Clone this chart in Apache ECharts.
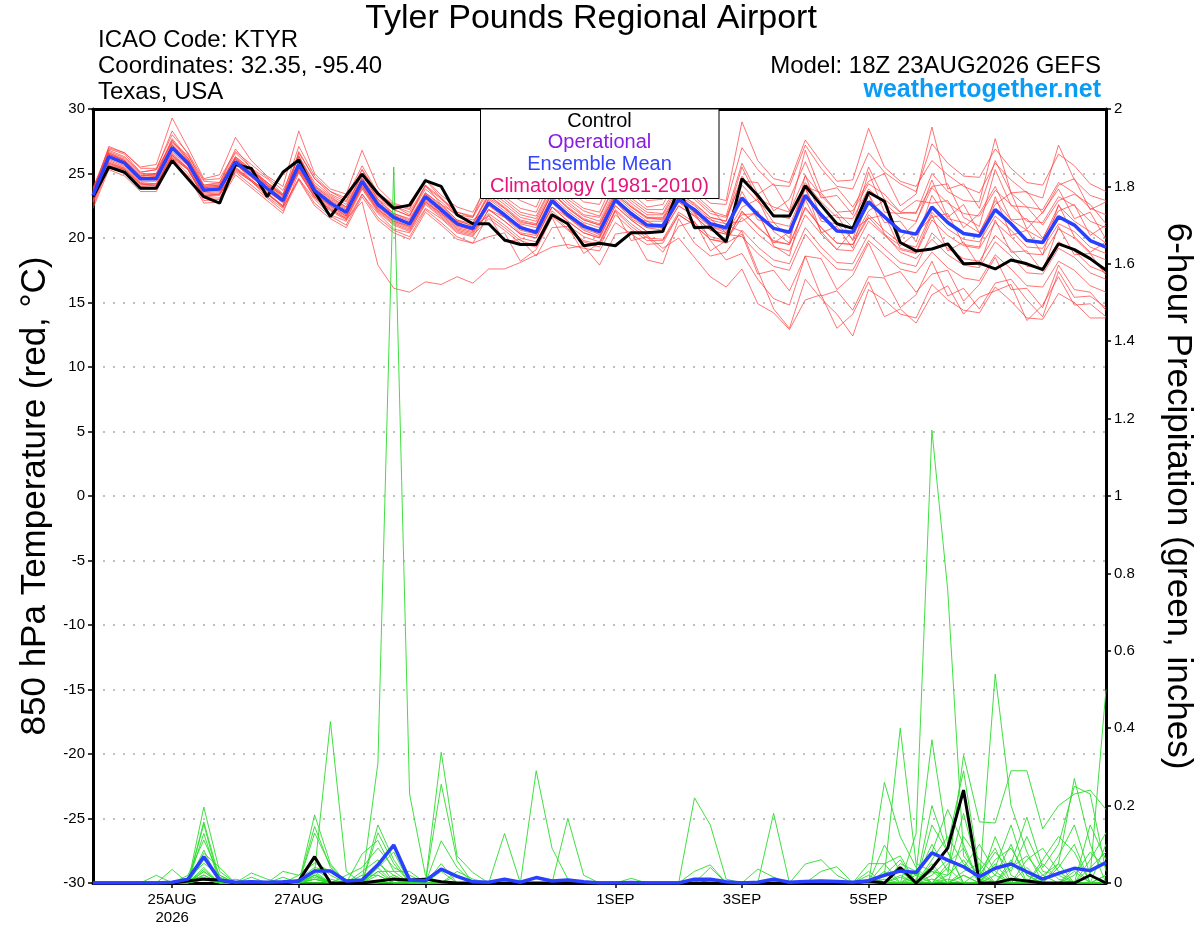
<!DOCTYPE html>
<html>
<head>
<meta charset="utf-8">
<script src="https://cdn.jsdelivr.net/npm/echarts@6/dist/echarts.min.js"></script>
<style>
html, body { margin: 0; padding: 0; background: #fff; }
#chart { width: 1200px; height: 927px; }
</style>
</head>
<body>
<div id="chart"></div>
<script>
// x = 6-hour step, 0 = 18Z 23AUG2026 ... 64 = 18Z 08SEP2026
var tickSteps = [5, 13, 21, 33, 41, 49, 57];
var tickLabels = ['25AUG\n2026', '27AUG', '29AUG', '1SEP', '3SEP', '5SEP', '7SEP'];

// 850 hPa temperature (C)
var tempControl = [23.2, 25.5,25.1,23.85,23.85, 26.0,24.6,23.2,22.7, 25.7,25.4,23.2,25.1, 26.05,23.6,21.65,23.3, 24.95,23.45,22.3,22.55, 24.45,24.0,21.8,21.1, 21.1,19.85,19.5,19.5, 21.8,21.1,19.4,19.6, 19.4,20.4,20.4,20.5, 23.9,20.8,20.85,19.7, 24.6,23.3,21.7,21.7, 24.05,22.55,21.1,20.75, 23.55,22.85,19.65,19.0, 19.15,19.55,18.0,18.05, 17.6,18.3,18.0,17.55, 19.55,19.1,18.4,17.5];
var tempMean = [23.3, 26.3,25.8,24.6,24.6, 27.0,25.8,23.7,23.8, 25.9,24.9,23.85,22.9, 25.7,23.7,22.7,22.0, 24.4,22.6,21.6,21.1, 23.2,22.2,21.1,20.75, 22.7,21.8,20.8,20.45, 22.9,21.8,20.9,20.5, 22.95,21.9,21.0,20.95, 23.0,22.2,21.1,20.8, 23.1,21.8,20.75,20.45, 23.3,21.8,20.55,20.45, 22.8,21.65,20.55,20.3, 22.4,21.2,20.35,20.15, 22.2,21.1,19.8,19.65, 21.65,21.0,19.8,19.3];
var tempMembers = [
  [23.8, 26.8,26.3,25.1,25.3, 28.3,26.5,24.1,24.3, 26.9,25.4,24.3,23.4, 27.1,24.8,23.6,23.1, 25.6,23.5,22.6,22.2, 24.6,23.3,22.4,22.0, 24.3,23.2,22.3,22.0, 24.6,23.2,22.3,22.0, 24.7,23.5,22.4,22.6, 24.8,23.7,22.7,22.6, 27.0,25.3,24.1,24.0, 27.2,25.4,24.0,23.8, 26.6,25.1,24.2,23.6, 27.3,25.8,24.8,24.7, 26.9,25.4,24.3,24.1, 26.5,25.6,24.2,23.6],
  [23.5, 26.6,26.0,24.8,25.0, 27.7,26.2,24.0,24.1, 26.3,25.3,24.1,23.3, 26.4,24.1,23.2,22.4, 25.0,23.0,22.2,21.7, 24.1,22.6,21.8,21.6, 24.8,23.7,22.9,22.4, 25.1,23.8,22.8,22.6, 25.2,23.9,22.9,23.0, 25.1,24.1,23.2,22.9, 29.0,26.0,24.6,24.3, 27.6,25.9,24.4,24.5, 28.5,25.5,24.4,24.0, 26.0,24.9,24.0,23.5, 25.8,24.5,23.5,23.1, 27.2,24.5,23.3,22.9],
  [23.0, 26.0,25.5,24.3,24.2, 26.5,25.4,23.4,23.5, 25.8,24.5,23.6,22.8, 26.7,24.6,23.4,22.8, 25.3,23.3,22.5,21.8, 24.0,23.0,22.0,21.6, 23.7,22.8,21.8,21.5, 24.0,22.8,21.8,21.6, 24.1,22.9,22.0,21.9, 24.1,23.2,22.1,21.7, 25.8,23.4,24.2,22.1, 26.8,23.6,23.9,22.4, 24.4,25.0,22.5,23.4, 28.6,23.8,24.2,22.3, 26.0,23.5,23.6,21.9, 24.1,24.6,22.2,22.8],
  [23.6, 27.0,26.6,25.5,25.7, 29.3,27.0,24.6,24.9, 27.8,26.0,24.8,24.0, 28.3,25.0,23.8,23.4, 26.8,23.9,22.7,22.3, 24.5,23.1,21.7,21.2, 23.3,22.3,21.2,21.0, 23.5,22.3,21.4,21.0, 23.4,22.4,21.6,21.4, 23.6,22.6,21.6,21.3, 24.8,23.1,22.4,22.0, 24.8,23.3,22.0,22.1, 24.2,23.4,22.0,21.9, 25.0,23.6,22.9,22.8, 27.7,23.5,22.4,22.2, 24.3,23.5,22.3,21.8],
  [22.8, 25.8,25.3,24.2,24.0, 26.3,25.3,23.2,23.4, 25.3,24.4,23.4,22.5, 25.3,23.4,22.5,21.7, 24.0,22.2,21.3,20.9, 22.8,21.9,21.0,20.6, 23.1,22.3,21.3,21.0, 23.5,22.3,21.4,21.0, 23.4,22.4,21.5,21.5, 23.4,22.7,21.6,21.3, 25.5,23.0,21.2,20.9, 24.0,23.5,22.0,20.8, 25.1,22.0,21.9,22.0, 24.0,24.2,21.6,20.9, 25.3,22.5,22.4,21.0, 22.9,23.4,22.6,21.1],
  [23.4, 26.5,26.0,24.8,24.9, 27.6,26.0,23.9,24.0, 26.2,25.0,24.1,23.0, 25.1,23.2,22.2,21.5, 23.9,22.1,21.1,20.6, 22.7,21.7,20.6,20.3, 22.2,21.3,20.3,20.0, 22.4,21.3,20.4,20.0, 22.5,21.4,20.5,20.5, 22.5,21.7,20.6,20.3, 22.4,23.0,20.5,19.6, 24.9,21.5,21.8,19.8, 22.1,22.9,20.0,21.2, 24.5,21.6,22.6,20.4, 22.6,23.5,20.7,22.0, 23.8,21.5,22.0,19.9],
  [23.1, 26.1,25.6,24.4,24.4, 26.7,25.6,23.5,23.6, 25.7,24.7,23.7,22.7, 26.0,24.0,23.0,22.3, 24.7,22.9,21.9,21.4, 23.5,22.5,21.4,21.1, 23.5,22.6,21.6,21.3, 23.7,22.6,21.7,21.3, 23.8,22.7,21.8,21.8, 23.8,23.0,21.9,21.6, 24.4,24.3,22.1,23.0, 25.9,23.1,23.3,21.8, 25.5,23.0,22.0,22.9, 22.7,22.9,20.8,21.9, 24.0,21.4,21.5,20.0, 22.1,22.6,20.2,21.0],
  [23.9, 26.9,26.5,25.1,25.3, 27.4,26.4,24.4,24.3, 26.6,25.4,24.6,23.4, 25.9,23.6,22.9,21.8, 24.6,22.4,21.8,21.0, 23.4,22.0,21.3,20.6, 22.9,21.6,21.0,20.3, 23.2,21.6,21.1,20.2, 23.3,21.6,21.3,20.7, 23.4,21.9,21.5,20.4, 23.6,21.4,21.2,20.0, 23.9,21.3,21.1,19.9, 23.4,21.2,21.3,19.7, 23.3,21.5,21.2,20.4, 22.9,21.4,20.6,19.9, 22.5,21.3,20.5,19.6],
  [22.7, 25.6,25.3,24.0,23.9, 26.2,25.3,23.1,23.1, 25.2,24.4,23.2,22.3, 24.6,23.0,21.8,21.3, 23.4,21.9,20.7,20.4, 22.3,21.5,20.4,20.1, 22.2,21.6,20.4,20.2, 22.4,21.6,20.6,20.1, 22.8,21.5,20.8,20.6, 22.8,21.8,20.9,20.4, 21.8,21.9,19.6,20.5, 23.9,20.4,20.9,19.2, 23.4,20.3,19.4,20.4, 21.6,21.9,19.5,19.3, 23.2,20.2,20.6,18.7, 22.6,20.1,18.9,19.7],
  [23.3, 26.4,25.9,24.6,24.8, 27.2,25.9,23.8,23.9, 26.1,25.2,24.3,23.3, 26.3,24.0,23.1,22.4, 24.9,23.0,21.9,21.5, 23.5,22.6,21.4,20.9, 21.7,20.8,19.8,19.4, 21.9,20.7,19.8,19.5, 22.1,20.9,20.0,19.9, 22.0,21.2,20.1,19.8, 22.0,20.9,19.7,19.5, 22.4,20.8,19.6,19.5, 21.8,20.6,19.6,19.3, 22.0,20.7,19.9,19.7, 21.7,20.6,19.3,19.2, 21.1,20.5,19.3,18.8],
  [22.9, 25.8,25.4,24.2,24.1, 26.4,25.4,23.3,23.4, 25.4,24.5,23.5,22.4, 24.6,22.7,21.7,21.0, 23.4,21.6,20.6,20.1, 22.2,21.2,20.1,19.6, 21.8,19.7,19.9,18.6, 20.8,20.9,18.8,19.6, 22.1,19.8,20.1,18.9, 20.9,21.3,19.0,19.8, 21.6,20.3,19.3,19.0, 21.8,20.3,19.1,19.0, 21.3,20.2,19.1,18.8, 21.4,20.2,19.4,19.2, 21.2,20.1,18.8,18.7, 20.7,20.0,18.8,18.3],
  [23.7, 26.7,26.2,25.0,25.0, 27.5,26.2,24.1,24.2, 26.3,25.3,24.3,23.3, 25.5,23.5,22.5,21.8, 24.2,22.4,21.4,20.9, 23.0,22.0,20.9,20.6, 23.0,22.1,21.1,20.8, 23.2,22.1,21.2,20.8, 23.3,22.2,21.3,21.3, 23.3,22.5,21.4,21.1, 21.3,22.1,19.4,18.6, 23.0,20.5,19.1,20.6, 21.5,21.8,19.2,18.9, 21.8,19.0,19.7,17.8, 21.4,18.9,19.0,17.4, 20.9,18.7,18.8,17.1],
  [22.5, 25.5,25.0,23.8,23.8, 26.2,25.0,22.9,23.0, 25.1,24.1,23.1,22.1, 24.5,22.5,21.5,20.8, 23.2,21.4,20.4,19.9, 22.0,21.0,19.9,19.6, 20.1,20.4,18.2,19.1, 21.6,19.2,19.4,17.9, 20.3,20.5,18.3,18.0, 21.5,19.6,18.6,18.9, 20.6,19.3,18.3,18.0, 20.8,19.3,18.1,18.0, 20.3,19.2,18.1,17.8, 20.4,19.2,18.4,18.2, 20.2,19.1,17.8,17.7, 19.7,19.0,17.8,17.3],
  [23.2, 26.2,25.9,24.5,24.7, 27.1,25.7,23.6,23.9, 25.8,24.8,23.8,22.9, 25.2,23.2,22.2,21.5, 22.8,17.9,16.1,15.8, 16.6,16.4,17.0,16.5, 17.6,17.6,18.1,18.7, 19.3,19.5,19.2,19.0, 21.2,20.3,19.5,19.6, 21.8,21.0,19.9,19.7, 22.1,20.8,19.8,19.5, 22.3,20.8,19.6,19.5, 21.6,20.3,18.9,18.4, 19.9,18.7,17.9,17.7, 19.7,18.6,17.3,17.2, 19.2,18.5,17.3,16.8],
  [23.6, 27.1,26.6,25.4,25.4, 28.0,26.6,24.5,24.6, 26.7,25.7,24.7,23.7, 26.3,24.3,23.3,22.6, 25.0,23.2,22.2,21.7, 23.8,22.8,21.7,21.4, 22.2,21.3,20.3,20.0, 22.4,21.3,20.4,20.0, 22.5,21.4,20.5,20.5, 22.5,21.7,20.6,20.3, 20.1,18.8,17.8,17.5, 20.3,18.8,17.6,17.5, 19.8,18.7,17.6,17.3, 18.9,17.7,16.9,16.7, 18.7,17.6,16.3,16.2, 18.2,17.5,16.3,15.8],
  [22.3, 25.3,24.8,23.6,23.6, 26.0,24.8,22.7,22.8, 24.9,23.9,22.9,21.9, 25.1,23.1,22.1,21.4, 23.8,22.0,21.0,20.5, 22.6,21.6,20.5,20.2, 21.5,20.6,19.6,19.3, 21.7,20.6,19.7,19.3, 21.8,20.7,19.8,19.8, 21.8,21.0,19.9,19.6, 20.3,17.2,17.5,15.9, 18.6,18.4,16.0,17.1, 19.6,17.0,17.4,15.8, 17.2,17.5,15.1,16.4, 18.5,16.0,16.1,14.6, 17.9,16.0,15.8,14.4],
  [23.6, 26.6,26.1,24.9,24.9, 27.3,26.1,24.0,24.1, 26.2,25.2,24.2,23.2, 25.9,23.9,22.9,22.2, 24.6,22.8,21.8,21.3, 23.4,22.4,21.3,21.0, 23.3,22.4,21.4,21.1, 23.5,22.4,21.5,21.1, 23.6,22.5,21.6,21.6, 23.6,22.0,19.8,18.3, 18.8,16.8,15.3,14.8, 18.6,15.5,15.9,14.4, 17.0,16.9,14.6,15.6, 18.2,15.5,16.1,14.5, 16.5,16.8,15.2,13.9, 17.4,15.4,15.5,14.6],
  [22.9, 25.9,25.4,24.2,24.2, 26.6,25.4,23.3,23.4, 25.5,24.5,23.5,22.5, 26.6,24.6,23.6,22.9, 25.3,23.5,22.5,22.0, 24.1,23.1,22.0,21.7, 23.9,23.0,22.0,21.7, 24.1,23.0,22.1,21.7, 24.2,23.1,22.2,22.2, 24.2,23.4,22.3,21.0, 20.5,17.5,14.5,13.0, 16.8,15.3,14.1,12.4, 16.0,15.2,14.1,13.8, 16.4,15.2,14.4,14.2, 16.2,15.1,13.8,13.7, 15.7,15.0,13.8,13.8],
  [23.5, 26.5,26.0,24.8,24.8, 27.2,26.0,23.9,24.0, 26.1,25.1,24.1,23.1, 25.4,23.4,22.4,21.7, 24.1,22.3,21.3,20.8, 22.9,21.9,20.8,20.5, 21.9,21.0,20.0,19.7, 22.1,21.0,20.1,19.7, 22.2,21.1,20.2,19.2, 20.0,18.5,17.0,16.2, 17.6,14.9,14.2,12.9, 15.2,15.6,13.0,14.1, 16.6,13.9,14.5,13.4, 15.6,16.3,14.1,15.4, 15.9,16.4,13.6,14.8, 17.0,14.8,14.9,13.9],
  [22.8, 25.7,25.3,24.1,24.1, 26.4,25.3,23.2,23.3, 25.4,24.4,23.4,22.4, 25.3,23.3,22.3,21.6, 24.0,22.2,21.2,20.7, 22.8,21.8,20.7,20.4, 22.5,21.6,20.6,20.3, 22.7,21.6,20.7,20.3, 22.8,21.7,20.8,20.8, 22.8,22.0,20.9,20.6, 24.1,22.8,21.8,21.5, 24.3,22.8,21.6,21.5, 23.8,22.7,21.6,21.3, 23.9,22.7,21.9,21.7, 23.7,22.6,21.3,21.2, 23.2,22.5,21.3,20.8]
];

// 6-hour precipitation (inches)
var precipControl = [0, 0,0,0,0, 0,0.005,0.01,0.008, 0,0,0,0, 0.005,0.068,0,0, 0,0.005,0.01,0.008, 0.01,0.003,0,0, 0,0,0,0, 0,0,0,0, 0,0,0,0, 0,0,0,0, 0,0,0,0, 0,0,0,0, 0.005,0,0.04,0, 0.038,0.09,0.24,0, 0,0.01,0.005,0, 0,0,0.02,0];
var precipMean = [0, 0,0,0,0, 0.002,0.01,0.068,0.008, 0.002,0.003,0.002,0.003, 0.005,0.031,0.031,0.005, 0.008,0.047,0.098,0.008, 0.006,0.036,0.017,0.003, 0.002,0.01,0.002,0.014, 0.005,0.008,0.003,0, 0,0.001,0,0, 0,0.01,0.01,0.003, 0,0.002,0.01,0.002, 0.004,0.005,0.004,0.002, 0.006,0.02,0.031,0.027, 0.078,0.059,0.042,0.016, 0.038,0.049,0.029,0.01, 0.025,0.038,0.032,0.053];
var precipMembers = [
  [0, 0,0,0,0, 0,0,0.196,0.03, 0,0,0,0, 0,0,0,0, 0,0.31,1.85,0.23, 0.02,0,0,0, 0,0,0,0, 0,0,0,0, 0,0,0,0, 0,0,0,0, 0,0,0,0, 0,0,0,0, 0,0.05,0.07,0, 0.2,0.08,0,0, 0.05,0,0,0, 0,0.03,0,0],
  [0, 0,0,0,0, 0.035,0,0.158,0.01, 0,0,0,0, 0,0.176,0.05,0, 0,0,0,0, 0,0.338,0.07,0.027, 0,0,0,0, 0,0,0,0, 0,0,0,0, 0,0,0,0, 0,0,0,0, 0,0,0,0, 0.02,0,0,0.128, 1.17,0.757,0.07,0.02, 0,0,0.04,0, 0,0,0,0.1],
  [0, 0,0,0,0, 0,0,0.152,0, 0,0,0,0, 0,0.03,0.417,0.03, 0,0,0,0, 0,0.255,0.058,0, 0,0,0,0.29, 0.09,0.01,0,0, 0,0,0,0, 0,0,0,0, 0,0,0,0, 0,0,0,0, 0,0.26,0.12,0.04, 0,0,0,0, 0.54,0.2,0.08,0, 0,0,0.02,0.5],
  [0, 0,0,0,0, 0,0,0.128,0, 0,0,0,0, 0,0.146,0.04,0, 0,0.15,0.06,0, 0,0,0,0, 0,0,0,0, 0,0.167,0.02,0, 0,0,0,0, 0,0.22,0.15,0.01, 0,0,0,0, 0,0,0,0, 0,0.02,0.40,0.05, 0.03,0.02,0.33,0.158, 0.155,0.29,0.29,0.14, 0.2,0.23,0.24,0.19],
  [0, 0,0,0,0, 0,0.02,0.111,0.02, 0,0,0,0, 0,0.129,0.045,0, 0,0.13,0.05,0, 0,0.109,0.04,0, 0,0.128,0,0, 0,0,0,0, 0,0,0,0, 0,0,0,0, 0,0,0.18,0, 0,0,0,0, 0,0,0,0.03, 0.37,0.1,0.29,0.03, 0,0,0,0.02, 0.05,0.27,0.1,0],
  [0, 0,0,0,0.02, 0,0,0.085,0, 0,0,0,0.03, 0.02,0.052,0.03,0, 0.075,0.11,0.03,0, 0,0,0,0, 0,0,0,0, 0,0,0,0, 0,0,0,0, 0,0.03,0.047,0, 0,0,0,0, 0.049,0.06,0.02,0, 0,0.098,0.03,0, 0.15,0.08,0,0, 0,0.05,0.17,0.04, 0.1,0.25,0.23,0.03],
  [0, 0,0,0,0, 0,0,0.077,0.04, 0,0.026,0.01,0, 0,0,0,0.02, 0.04,0.09,0.04,0.02, 0,0,0,0, 0,0,0,0, 0,0,0,0, 0,0,0,0, 0,0,0.04,0, 0,0,0,0, 0,0.03,0.042,0, 0.05,0.05,0,0, 0.06,0.12,0.05,0.01, 0,0,0,0.06, 0.12,0.08,0,0],
  [0, 0,0,0,0, 0,0.01,0.051,0.02, 0,0,0,0, 0.01,0.04,0.03,0, 0,0.05,0.02,0, 0,0,0.02,0, 0,0,0,0, 0,0,0,0, 0,0,0,0, 0,0,0,0, 0,0.036,0.015,0, 0,0,0,0, 0,0,0.04,0.02, 0.08,0.19,0.1,0, 0.06,0.09,0.02,0, 0,0,0.06,0.13],
  [0, 0,0,0,0, 0,0,0.029,0, 0.01,0,0,0, 0,0.03,0,0, 0.03,0.06,0,0.01, 0,0,0,0, 0,0,0,0, 0,0,0,0, 0,0,0,0, 0,0,0,0, 0,0,0,0, 0,0,0,0, 0,0.02,0.06,0, 0.04,0,0.12,0.06, 0.02,0.1,0,0.01, 0.07,0.15,0.02,0],
  [0, 0,0,0,0, 0,0,0.021,0, 0,0,0,0, 0,0.02,0,0, 0,0,0.02,0, 0,0.05,0,0, 0,0,0,0, 0,0,0,0, 0,0.012,0,0, 0,0,0,0, 0,0,0,0, 0,0,0,0, 0,0.03,0,0.01, 0.1,0.03,0.18,0.02, 0.08,0.03,0.12,0.03, 0.02,0,0.15,0.06],
  [0, 0,0,0,0, 0,0.01,0.015,0, 0,0,0,0, 0.02,0.06,0.02,0, 0,0.04,0.08,0, 0.01,0,0,0, 0,0,0,0, 0,0,0,0, 0,0,0,0, 0,0,0,0, 0,0,0,0, 0,0,0,0, 0.03,0,0.05,0.03, 0,0.05,0.09,0, 0.12,0.02,0,0, 0.04,0.1,0,0.02],
  [0, 0,0,0,0, 0,0,0.01,0, 0,0,0,0, 0,0.025,0,0, 0,0.03,0.03,0.03, 0,0.03,0,0, 0,0,0,0, 0,0,0,0, 0,0,0,0, 0,0.01,0,0, 0,0,0,0, 0,0,0,0, 0,0,0,0, 0.02,0.06,0.04,0.1, 0.03,0,0.06,0.09, 0.03,0,0,0],
  [0, 0,0,0,0, 0,0,0.04,0, 0,0,0,0, 0,0.015,0,0, 0.02,0.02,0,0, 0,0,0,0, 0,0,0,0, 0,0,0,0, 0,0,0,0, 0,0,0,0, 0,0,0,0, 0,0,0,0, 0,0.01,0,0, 0.05,0,0.02,0, 0.04,0.15,0.02,0, 0,0.02,0.08,0.04],
  [0, 0,0,0,0, 0,0,0.06,0.015, 0,0,0,0, 0,0.01,0,0, 0,0,0.015,0, 0,0,0.03,0.01, 0,0,0,0, 0,0,0,0, 0,0,0,0, 0,0,0,0, 0,0,0,0, 0,0,0,0, 0,0,0,0.02, 0,0.02,0.06,0, 0,0.04,0.07,0.02, 0,0,0,0],
  [0, 0,0,0,0, 0,0,0.035,0, 0,0.015,0,0, 0,0.02,0,0, 0,0.03,0,0, 0,0,0,0, 0,0,0,0, 0,0,0,0, 0,0,0,0, 0,0,0,0, 0,0,0,0, 0,0,0,0, 0,0,0.02,0, 0,0.04,0,0.03, 0.09,0,0,0, 0.05,0,0.04,0.08],
  [0, 0,0,0,0, 0,0,0.02,0, 0,0,0,0.015, 0,0.035,0.01,0, 0,0,0,0, 0,0,0,0, 0,0,0,0, 0,0,0,0, 0,0,0,0, 0,0,0,0, 0,0,0,0, 0,0,0,0, 0,0,0,0, 0,0,0.03,0.05, 0,0,0,0.05, 0.01,0,0,0],
  [0, 0,0,0,0, 0,0,0.01,0, 0,0,0,0, 0,0,0,0, 0,0.02,0,0.01, 0,0,0,0, 0,0,0,0, 0,0,0,0, 0,0,0,0, 0,0,0,0, 0,0,0,0, 0,0,0,0, 0,0,0,0, 0.03,0,0,0, 0,0.06,0,0, 0,0.04,0,0],
  [0, 0,0,0,0, 0,0,0.008,0, 0,0,0,0, 0,0.01,0,0, 0,0,0.01,0, 0,0,0,0, 0,0,0,0, 0,0,0,0, 0,0,0,0, 0,0,0,0, 0,0,0,0, 0,0,0,0, 0,0,0,0, 0,0.01,0,0, 0.02,0,0,0, 0,0,0,0],
  [0, 0,0,0,0, 0,0,0.03,0, 0,0,0,0, 0,0.02,0,0, 0,0.04,0,0, 0,0,0,0, 0,0,0,0, 0,0,0,0, 0,0,0,0, 0,0,0,0, 0,0,0,0, 0,0,0,0, 0,0,0.015,0, 0,0,0.02,0, 0,0,0,0, 0,0,0,0.02],
  [0, 0,0,0,0, 0,0,0.012,0, 0,0,0,0, 0,0.01,0,0, 0,0,0,0, 0,0,0,0, 0,0,0,0, 0,0,0,0, 0,0,0,0, 0,0,0,0, 0,0,0,0, 0,0,0,0, 0,0,0,0, 0.01,0,0,0, 0,0,0.01,0, 0,0,0,0]
];

var FONT = '"Liberation Sans", Arial, Helvetica, sans-serif';

function pairs(arr) {
    return arr.map(function (v, i) { return [i, v]; });
}

function lineSeries(arr, axis, color, width, opacity, z) {
    return {
        type: 'line',
        yAxisIndex: axis,
        data: pairs(arr),
        showSymbol: false,
        symbol: 'none',
        silent: true,
        z: z,
        lineStyle: { color: color, width: width, opacity: opacity }
    };
}

var series = [];
tempMembers.forEach(function (m) {
    series.push(lineSeries(m, 0, '#ff3b3b', 1, 0.7, 2));
});
precipMembers.forEach(function (m) {
    series.push(lineSeries(m, 1, '#2bdc2b', 1, 0.9, 3));
});
series.push(lineSeries(tempControl, 0, '#000000', 3, 1, 5));
series.push(lineSeries(tempMean, 0, '#2a40ff', 3.5, 1, 6));
series.push(lineSeries(precipControl, 1, '#000000', 3, 1, 5));
series.push(lineSeries(precipMean, 1, '#2a40ff', 3.5, 1, 6));

function txt(text, x, y, size, color, align, weight) {
    return {
        type: 'text', x: x, y: y, z: 100,
        style: {
            text: text, fill: color,
            font: (weight || 'normal') + ' ' + size + 'px ' + FONT,
            textAlign: align, textVerticalAlign: 'middle'
        }
    };
}

var myChart = echarts.init(document.getElementById('chart'));
var option = {
    animation: false,
    backgroundColor: '#fff',
    textStyle: { fontFamily: FONT },
    grid: { left: 93, right: 94, top: 109, bottom: 44, containLabel: false, outerBoundsMode: 'none' },
    xAxis: [
        {
            type: 'value', min: 0, max: 64, position: 'bottom',
            axisLine: { show: true, onZero: false, lineStyle: { color: '#000', width: 3 } },
            axisTick: { show: true, customValues: tickSteps, length: 5, lineStyle: { color: '#000', width: 1.5 } },
            axisLabel: {
                customValues: tickSteps, color: '#000', fontSize: 15, fontFamily: FONT,
                margin: 8, lineHeight: 18,
                formatter: function (v) {
                    var k = tickSteps.indexOf(v);
                    return k >= 0 ? tickLabels[k] : '';
                }
            },
            splitLine: { show: false }
        },
        {
            type: 'value', min: 0, max: 64, position: 'top',
            axisLine: { show: true, onZero: false, lineStyle: { color: '#000', width: 3 } },
            axisTick: { show: false }, axisLabel: { show: false }, splitLine: { show: false }
        }
    ],
    yAxis: [
        {
            type: 'value', min: -30, max: 30, interval: 5, position: 'left',
            axisLine: { show: true, onZero: false, lineStyle: { color: '#000', width: 3 } },
            axisTick: { show: true, length: 5, lineStyle: { color: '#000', width: 1.5 } },
            axisLabel: { color: '#000', fontSize: 15, fontFamily: FONT, margin: 8 },
            splitLine: { show: true, lineStyle: { color: '#aaaaaa', type: [2, 8], width: 1.5 } },
            name: '850 hPa Temperature (red, °C)',
            nameLocation: 'middle', nameGap: 40,
            nameTextStyle: { color: '#000', fontSize: 35, fontFamily: FONT }
        },
        {
            type: 'value', min: 0, max: 2, interval: 0.2, position: 'right',
            axisLine: { show: true, onZero: false, lineStyle: { color: '#000', width: 3 } },
            axisTick: { show: true, length: 5, lineStyle: { color: '#000', width: 1.5 } },
            axisLabel: { color: '#000', fontSize: 15, fontFamily: FONT, margin: 8 },
            splitLine: { show: false },
            name: '6-hour Precipitation (green, inches)',
            nameLocation: 'middle', nameGap: 54, nameRotate: -90,
            nameTextStyle: { color: '#000', fontSize: 35, fontFamily: FONT }
        }
    ],
    graphic: [
        txt('Tyler Pounds Regional Airport', 591, 19, 34, '#000', 'center'),
        txt('ICAO Code: KTYR', 98, 40, 24, '#000', 'left'),
        txt('Coordinates: 32.35, -95.40', 98, 66, 24, '#000', 'left'),
        txt('Texas, USA', 98, 92, 24, '#000', 'left'),
        txt('Model: 18Z 23AUG2026 GEFS', 1101, 66, 24, '#000', 'right'),
        txt('weathertogether.net', 1101, 90, 25, '#0a9cf5', 'right', 'bold'),
        {
            type: 'rect', z: 99,
            shape: { x: 480.5, y: 109, width: 238.5, height: 89.5 },
            style: { fill: '#fff', stroke: '#000', lineWidth: 1 }
        },
        txt('Control', 599.5, 121, 20, '#000', 'center'),
        txt('Operational', 599.5, 142, 20, '#8a1be0', 'center'),
        txt('Ensemble Mean', 599.5, 164, 20, '#3344ff', 'center'),
        txt('Climatology (1981-2010)', 599.5, 186, 20, '#e6147c', 'center')
    ],
    series: series
};
myChart.setOption(option);
</script>
</body>
</html>
